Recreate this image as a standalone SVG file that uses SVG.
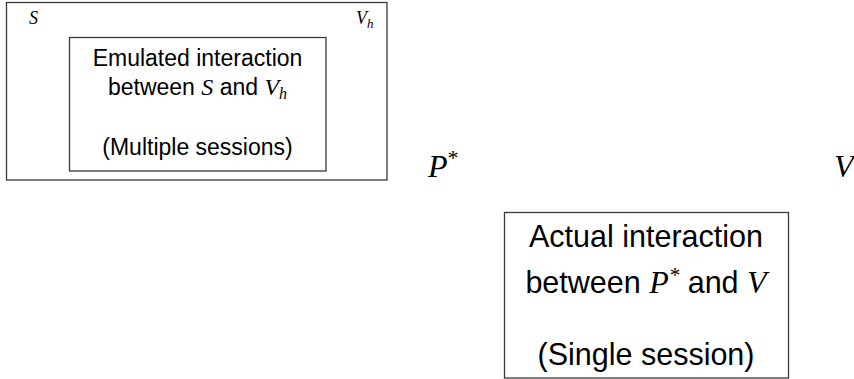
<svg xmlns="http://www.w3.org/2000/svg" width="854" height="379" viewBox="0 0 854 379">
<style>
.box{fill:none;stroke:#3a3a3a;stroke-width:1.3}
.t1{font-family:"Liberation Sans",Arial,sans-serif;font-size:23px;fill:#000;text-anchor:middle}
.t2{font-family:"Liberation Sans",Arial,sans-serif;font-size:30.5px;fill:#000;text-anchor:middle}
.m{font-family:"Liberation Serif","Times New Roman",serif;font-style:italic}
.lab{font-family:"Liberation Serif","Times New Roman",serif;font-style:italic;fill:#000}
</style>
<rect width="854" height="379" fill="#fff"/>
<g id="outer">
<rect class="box" x="6.5" y="2.5" width="380.5" height="177.5"/>
<text class="lab" x="29" y="24" font-size="18">S</text>
<text class="lab" x="356" y="24" font-size="18">V<tspan font-size="13" dy="4">h</tspan></text>
</g>
<g id="emulated">
<rect class="box" x="69.5" y="37.5" width="256.5" height="133.5"/>
<text class="t1" x="197.5" y="66">Emulated interaction</text>
<text class="t1" x="197.5" y="95">between <tspan class="m" font-size="24">S</tspan> and <tspan class="m" font-size="24">V</tspan><tspan class="m" font-size="16" dy="4">h</tspan></text>
<text class="t1" x="197.5" y="155">(Multiple sessions)</text>
</g>
<g id="pstar">
<text class="lab" x="428" y="177" font-size="32">P<tspan font-size="22" dy="-12" font-style="normal">*</tspan></text>
</g>
<g id="verifier">
<text class="lab" x="834" y="177" font-size="32">V</text>
</g>
<g id="actual">
<rect class="box" x="504.5" y="212.5" width="284" height="165.5"/>
<text class="t2" x="646" y="247">Actual interaction</text>
<text class="t2" x="646" y="293">between <tspan class="m" font-size="32">P</tspan><tspan class="m" font-size="21" dy="-11" font-style="normal">*</tspan><tspan dy="11"> and </tspan><tspan class="m" font-size="32">V</tspan></text>
<text class="t2" x="646" y="365">(Single session)</text>
</g>
<g id="connectors"/>
</svg>
